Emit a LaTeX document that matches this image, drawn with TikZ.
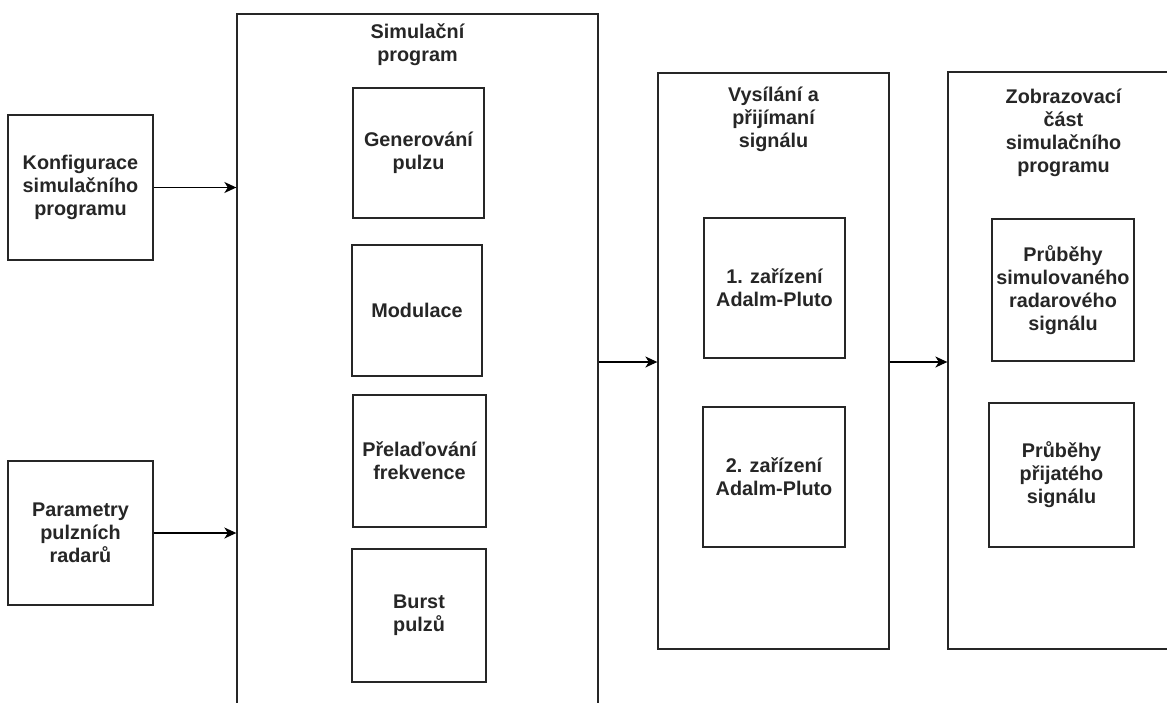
\documentclass[tikz,border=0pt]{standalone}
\usepackage{fontspec}
\setmainfont{Liberation Sans}
\usetikzlibrary{arrows.meta}
\begin{document}
\begin{tikzpicture}[x=1pt,y=-1pt,
  box/.style={draw=black!85, line width=1.3pt, inner sep=0pt, align=center,
    font=\fontsize{19.8}{23}\selectfont\bfseries, text=black!85},
  ttl/.style={inner sep=0pt, align=center,
    font=\fontsize{19.8}{23}\selectfont\bfseries, text=black!85},
  arr/.style={draw=black, line width=1.4pt, -{Stealth[length=12pt,width=11pt,inset=3.5pt]}}]
\clip (0,0) rectangle (1167,702);
\useasboundingbox (0,0) rectangle (1167,702);
\fill[white] (0,0) rectangle (1167,702);
% left inputs
\node[box, minimum width=145pt, minimum height=145pt] (k) at (80.5,187.5) {Konfigurace\\simulačního\\programu};
\node[box, minimum width=145pt, minimum height=144pt] (p) at (80.5,533) {Parametry\\pulzních\\radarů};
% simulation program
\node[box, minimum width=361pt, minimum height=696pt] (sim) at (417.5,362) {};
\node[ttl] (simt) at (417.5,45) {Simulační\\program};
\node[box, minimum width=131pt, minimum height=130pt] (gen) at (418.5,153) {Generování\\pulzu};
\node[box, minimum width=130pt, minimum height=131pt] (mod) at (417,310.5) {Modulace};
\node[box, minimum width=133pt, minimum height=132pt] (pre) at (419.5,461) {Přelaďování\\frekvence};
\node[box, minimum width=134pt, minimum height=133pt] (bur) at (419,615.5) {Burst\\pulzů};
% transmit / receive
\node[box, minimum width=231pt, minimum height=576pt] (vys) at (773.5,361) {};
\node[ttl] (vyst) at (773.5,119.5) {Vysílání a\\přijímaní\\signálu};
\node[box, minimum width=141pt, minimum height=140pt] (d1) at (774.5,288) {1. zařízení\\Adalm-Pluto};
\node[box, minimum width=142pt, minimum height=140pt] (d2) at (774,477) {2. zařízení\\Adalm-Pluto};
% display
\node[box, minimum width=231pt, minimum height=577pt] (zob) at (1063.5,360.5) {};
\node[ttl] (zobt) at (1063.5,132.5) {Zobrazovací\\část\\simulačního\\programu};
\node[box, minimum width=142pt, minimum height=142pt] (pr1) at (1063,290) {Průběhy\\simulovaného\\radarového\\signálu};
\node[box, minimum width=145pt, minimum height=144pt] (pr2) at (1061.5,475) {Průběhy\\přijatého\\signálu};
% connectors
\draw[arr] (k.east) -- (k.east -| sim.west);
\draw[arr] (p.east) -- (p.east -| sim.west);
\draw[arr] (sim.east) -- (sim.east -| vys.west);
\draw[arr] (vys.east |- sim.east) -- (sim.east -| zob.west);
\end{tikzpicture}
\end{document}
